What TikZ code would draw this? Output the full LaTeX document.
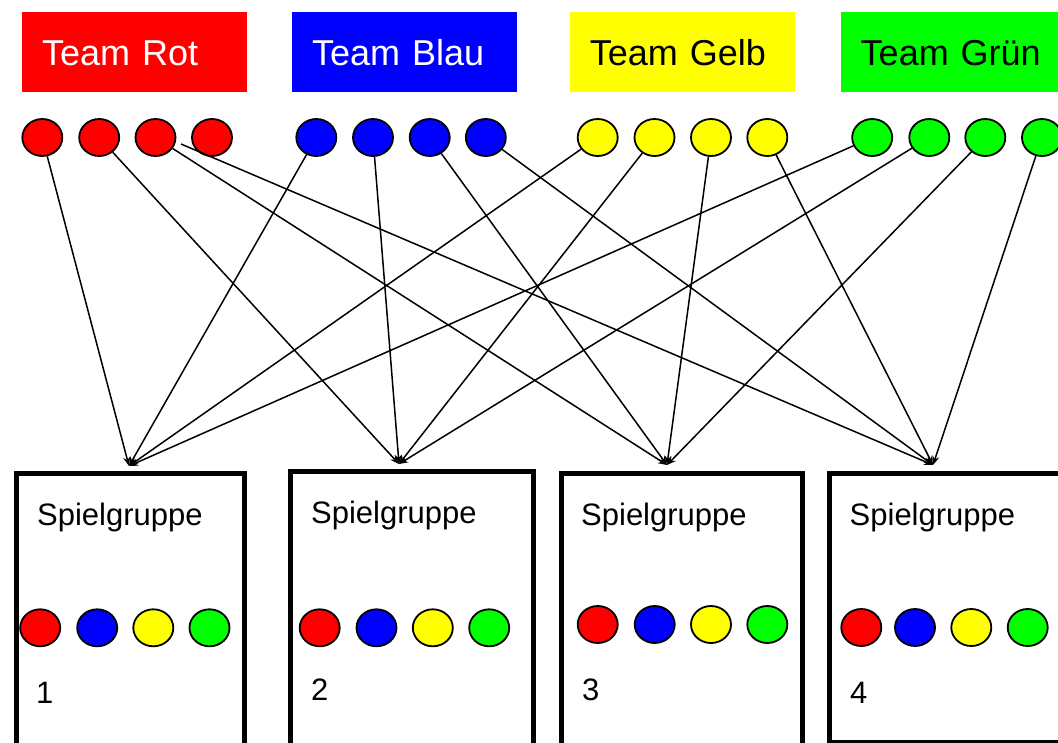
\documentclass[tikz,border=0pt]{standalone}
\usepackage{fontspec}
\setmainfont{Liberation Sans}
\usetikzlibrary{shapes.geometric,arrows.meta}
\definecolor{pgreen}{rgb}{0,1,0}
\definecolor{pyellow}{rgb}{1,1,0}
\definecolor{pblue}{rgb}{0,0,1}
\definecolor{pred}{rgb}{1,0,0}
\begin{document}
\begin{tikzpicture}[x=1pt,y=-1pt,
  dot/.style={ellipse, draw=black, line width=1.8pt, minimum width=40pt, minimum height=37pt, inner sep=0pt},
  teambox/.style={text width=185pt, inner xsep=20pt, minimum height=80pt, inner ysep=0pt, align=left, font=\fontsize{36}{40}\selectfont, text height=26pt, text depth=0pt},
  grp/.style={draw=black, line width=5pt, anchor=north west, inner sep=0pt},
  lbl/.style={anchor=base west, inner sep=0pt, font=\fontsize{31}{36}\selectfont},
  conn/.style={line width=1.5pt, -{Stealth[length=9pt,width=7pt]}},
]
\useasboundingbox (0,0) rectangle (1058,742);
\clip (0,0) rectangle (1058,742);

% team headers
\node[teambox, fill=pred, text=white] (tr) at (134.5,52) {Team Rot};
\node[teambox, fill=pblue, text=white] (tb) at (404.5,52) {Team Blau};
\node[teambox, fill=pyellow, text=black] (ty) at (682.3,52) {Team Gelb};
\node[teambox, fill=pgreen, text=black] (tg) at (953.2,52) {Team Grün};

% top circles
\node[dot, fill=pred] (r1) at (42.3,137.5) {};
\node[dot, fill=pred] (r2) at (99.2,137.5) {};
\node[dot, fill=pred] (r3) at (155.5,137.5) {};
\node[dot, fill=pred] (r4) at (212,137.5) {};
\node[dot, fill=pblue] (b1) at (316.3,137.5) {};
\node[dot, fill=pblue] (b2) at (373,137.5) {};
\node[dot, fill=pblue] (b3) at (429.7,137.5) {};
\node[dot, fill=pblue] (b4) at (485.8,137.5) {};
\node[dot, fill=pyellow] (y1) at (597.7,137.5) {};
\node[dot, fill=pyellow] (y2) at (654.5,137.5) {};
\node[dot, fill=pyellow] (y3) at (711,137.5) {};
\node[dot, fill=pyellow] (y4) at (767.3,137.5) {};
\node[dot, fill=pgreen] (g1) at (872.2,137.5) {};
\node[dot, fill=pgreen] (g2) at (929.3,137.5) {};
\node[dot, fill=pgreen] (g3) at (985.3,137.5) {};
\node[dot, fill=pgreen] (g4) at (1042,137.5) {};

% group boxes
\node[grp, minimum width=228.5pt, minimum height=400pt] (s1) at (13.5,470.5) {};
\node[grp, minimum width=243pt, minimum height=400pt] (s2) at (287.5,469) {};
\node[grp, minimum width=241pt, minimum height=400pt] (s3) at (558.5,470.5) {};
\node[grp, minimum width=243.5pt, minimum height=269.5pt] (s4) at (826.5,470.5) {};

% arrow targets
\coordinate (a1) at (129,466);
\coordinate (a2) at (399,464);
\coordinate (a3) at (667,465);
\coordinate (a4) at (933,465);
\coordinate (r4s) at (181,144);

% connectors
\draw[conn] (r1) -- (a1);
\draw[conn] (r2) -- (a2);
\draw[conn] (r3) -- (a3);
\draw[conn] (r4s) -- (a4);
\draw[conn] (b1) -- (a1);
\draw[conn] (b2) -- (a2);
\draw[conn] (b3) -- (a3);
\draw[conn] (b4) -- (a4);
\draw[conn] (y1) -- (a1);
\draw[conn] (y2) -- (a2);
\draw[conn] (y3) -- (a3);
\draw[conn] (y4) -- (a4);
\draw[conn] (g1) -- (a1);
\draw[conn] (g2) -- (a2);
\draw[conn] (g3) -- (a3);
\draw[conn] (g4) -- (a4);

% labels in groups
\node[lbl] (l1) at (37,525.5) {Spielgruppe};
\node[lbl] (l2) at (311,523) {Spielgruppe};
\node[lbl] (l3) at (581,525.5) {Spielgruppe};
\node[lbl] (l4) at (849.5,525.5) {Spielgruppe};
\node[lbl] (n1) at (36,703) {1};
\node[lbl] (n2) at (311,700) {2};
\node[lbl] (n3) at (582,700) {3};
\node[lbl] (n4) at (850,703) {4};

% circles in groups
\node[dot, fill=pred] (s1r) at (40.2,627.8) {};
\node[dot, fill=pblue] (s1b) at (97.2,627.8) {};
\node[dot, fill=pyellow] (s1y) at (153.3,627.8) {};
\node[dot, fill=pgreen] (s1g) at (209.5,627.8) {};
\node[dot, fill=pred] (s2r) at (319.7,627.8) {};
\node[dot, fill=pblue] (s2b) at (376.5,627.8) {};
\node[dot, fill=pyellow] (s2y) at (432.8,627.8) {};
\node[dot, fill=pgreen] (s2g) at (489.2,627.8) {};
\node[dot, fill=pred] (s3r) at (597.7,624.5) {};
\node[dot, fill=pblue] (s3b) at (654.7,624.5) {};
\node[dot, fill=pyellow] (s3y) at (711,624.5) {};
\node[dot, fill=pgreen] (s3g) at (767.3,624.5) {};
\node[dot, fill=pred] (s4r) at (861.3,627.5) {};
\node[dot, fill=pblue] (s4b) at (915,627.5) {};
\node[dot, fill=pyellow] (s4y) at (971.3,627.5) {};
\node[dot, fill=pgreen] (s4g) at (1027.7,627.5) {};
\end{tikzpicture}
\end{document}
